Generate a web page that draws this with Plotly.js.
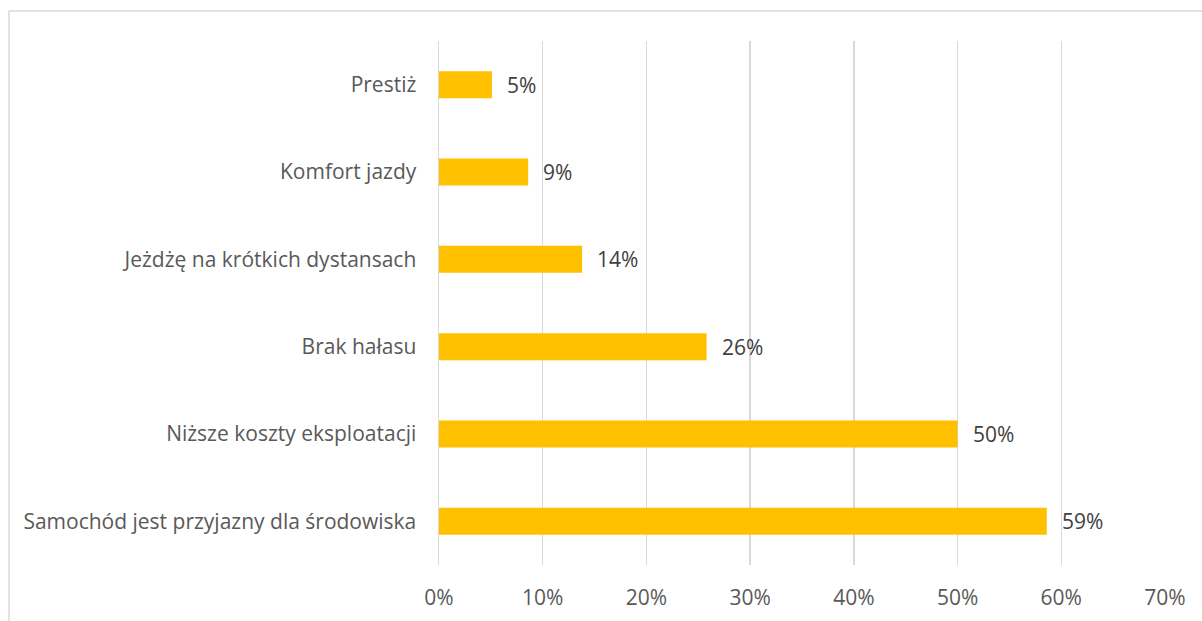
<!DOCTYPE html>
<html>
<head>
<meta charset="utf-8">
<script src="https://cdn.plot.ly/plotly-3.0.1.min.js"></script>
<style>
  html, body { margin: 0; padding: 0; background: #ffffff; }
  #chart { width: 1202px; height: 621px; }
</style>
</head>
<body>
<div id="chart"></div>
<script>
// Categories listed top to bottom
const categories = [
  "Prestiż",
  "Komfort jazdy",
  "Jeżdżę na krótkich dystansach",
  "Brak hałasu",
  "Niższe koszty eksploatacji",
  "Samochód jest przyjazny dla środowiska"
];
const values = [0.051, 0.086, 0.138, 0.258, 0.50, 0.586];
const valueLabels = ["5%", "9%", "14%", "26%", "50%", "59%"];
const tickValues = [0, 0.1, 0.2, 0.3, 0.4, 0.5, 0.6, 0.7];
const tickLabels = ["0%", "10%", "20%", "30%", "40%", "50%", "60%", "70%"];

const FONT = "'Open Sans', 'Noto Sans', sans-serif";
const FS = 21;

const trace = {
  type: "bar",
  orientation: "h",
  x: values,
  y: categories,
  marker: { color: "#FFC000" },
  hoverinfo: "none"
};

const annotations = values.map((v, i) => ({
  x: v,
  y: categories[i],
  xref: "x",
  yref: "y",
  text: valueLabels[i],
  showarrow: false,
  xanchor: "left",
  yanchor: "middle",
  xshift: 13,
  font: { family: FONT, size: FS, color: "#404040" }
}));

// chart border (top and left edges visible)
const L = 439, R = 1165, T = 41, B = 565;
const px = (p) => (p - L) / (R - L);
const py = (p) => (B - p) / (B - T);
const shapes = [
  { type: "line", xref: "paper", yref: "paper", x0: px(9), x1: px(1202), y0: py(11), y1: py(11),
    line: { color: "#d9d9d9", width: 1.5 } },
  { type: "line", xref: "paper", yref: "paper", x0: px(9), x1: px(9), y0: py(11), y1: py(621),
    line: { color: "#d9d9d9", width: 1.5 } }
];

const layout = {
  width: 1202,
  height: 621,
  margin: { l: L, r: 1202 - R, t: T, b: 621 - B, pad: 0 },
  paper_bgcolor: "#ffffff",
  plot_bgcolor: "#ffffff",
  showlegend: false,
  bargap: 0.69,
  font: { family: FONT, size: FS, color: "#595959" },
  xaxis: {
    range: [0, 0.7],
    tickvals: tickValues,
    ticktext: tickLabels,
    showgrid: true,
    gridcolor: "#d9d9d9",
    gridwidth: 1.5,
    zeroline: false,
    showline: false,
    ticks: "outside",
    ticklen: 14,
    tickcolor: "rgba(0,0,0,0)",
    tickfont: { family: FONT, size: FS, color: "#595959" },
    fixedrange: true
  },
  yaxis: {
    type: "category",
    autorange: "reversed",
    showgrid: false,
    zeroline: false,
    showline: true,
    linecolor: "#d9d9d9",
    linewidth: 1.5,
    ticks: "outside",
    ticklen: 17,
    tickcolor: "rgba(0,0,0,0)",
    tickfont: { family: FONT, size: FS, color: "#595959" },
    fixedrange: true
  },
  annotations: annotations,
  shapes: shapes
};

Plotly.newPlot("chart", [trace], layout, { displayModeBar: false, staticPlot: true });
</script>
</body>
</html>
